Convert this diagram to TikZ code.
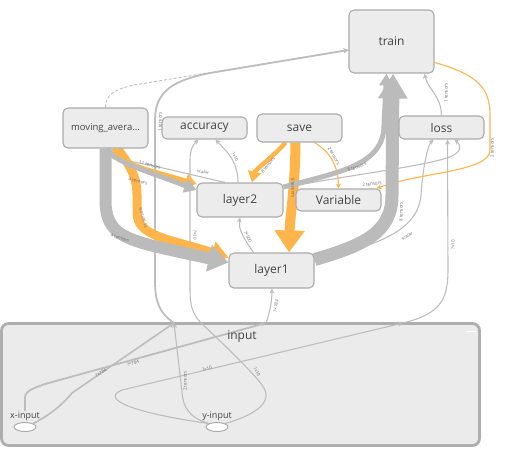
\documentclass[tikz,border=0pt]{standalone}
\usepackage{fontspec}
\setmainfont{Open Sans}
\usetikzlibrary{positioning,calc,arrows.meta,shapes.geometric}
\definecolor{nodefill}{HTML}{ECECEC}
\definecolor{nodeframe}{HTML}{ABABAB}
\definecolor{groupfill}{HTML}{EBEBEB}
\definecolor{groupframe}{HTML}{AEAEAE}
\definecolor{edgegray}{HTML}{BDBDBD}
\definecolor{flowgray}{HTML}{BBBBBB}
\definecolor{reforange}{HTML}{FFB54A}
\definecolor{nodetext}{HTML}{444444}
\definecolor{labeltext}{HTML}{6A6A6A}
\pgfdeclarelayer{grouplayer}
\pgfdeclarelayer{edgelayer}
\pgfsetlayers{grouplayer,edgelayer,main}
\tikzset{>=Stealth,
  opnode/.style={draw=nodeframe,fill=nodefill,rounded corners=5pt,line width=1.1pt,
    text=nodetext,font=\fontsize{12}{14}\selectfont,inner sep=0pt},
  groupbox/.style={draw=groupframe,fill=groupfill,rounded corners=7pt,line width=2.8pt,inner sep=0pt},
  inputnode/.style={ellipse,draw=nodeframe,fill=white,line width=1pt,
    minimum width=22pt,minimum height=9pt,inner sep=0pt},
  inputname/.style={font=\fontsize{9}{10}\selectfont,text=nodetext,inner sep=1pt},
  dataedge/.style={draw=edgegray,line width=1.1pt,-{Stealth[length=5pt,width=5pt]}},
  refedge/.style={draw=reforange,line width=1.1pt,-{Stealth[length=5pt,width=5pt]}},
  elabel/.style={font=\fontsize{4.5}{5}\selectfont,text=labeltext,inner sep=0pt}
}

\begin{document}
\begin{tikzpicture}[x=1pt,y=-1pt]
\useasboundingbox (0,0) rectangle (514,456);
% the input group
\begin{pgfonlayer}{grouplayer}
\node[groupbox,minimum width=478pt,minimum height=122pt] (input) at (240.5,384.5) {};
\end{pgfonlayer}
\node[font=\fontsize{12}{14}\selectfont,text=nodetext] (inputname) at (242,337) {input};
\draw[white,line width=1.4pt] (466,331.5) -- (476,331.5);
\node[inputnode] (xin) at (25,427) {};
\node[inputnode] (yin) at (217,427) {};
\node[inputname,above=0pt of xin] (xinname) {x-input};
\node[inputname,above=0pt of yin] (yinname) {y-input};
\coordinate (portA) at (174,323);
\coordinate (portB) at (201,323);
\coordinate (portC) at (266,323);
\coordinate (portD) at (403,323);
% ops
\node[opnode,minimum width=85pt,minimum height=63pt] (train) at (391.5,41.5) {train};
\node[opnode,minimum width=85pt,minimum height=40pt,font=\fontsize{9.5}{11}\selectfont] (movavg) at (105.5,128) {moving\_avera...};
\node[opnode,minimum width=85pt,minimum height=22pt] (accuracy) at (204.5,128) {accuracy};
\node[opnode,minimum width=85pt,minimum height=28pt] (save) at (299.5,128) {save};
\node[opnode,minimum width=85pt,minimum height=23pt] (loss) at (441.5,127.5) {loss};
\node[opnode,minimum width=86pt,minimum height=34pt] (layertwo) at (240,200) {layer2};
\node[opnode,minimum width=85pt,minimum height=22pt] (variable) at (338.5,200) {Variable};
\node[opnode,minimum width=85pt,minimum height=35pt] (layerone) at (271.5,270.5) {layer1};

\begin{pgfonlayer}{edgelayer}
% thin edges
\draw[dataedge,-] ([xshift=2pt]movavg.south) .. controls (108,156) and (125,161) .. (150,165) -- ([xshift=-15pt]layertwo.north);
\draw[dataedge,dash pattern=on 3pt off 2pt,line width=0.9pt] (movavg.north) .. controls (105,95) and (115,88) .. (140,84) -- ([yshift=-8.5pt]train.west);
\draw[dataedge,line width=1.8pt] (portA) .. controls (158,312) and (155,300) .. (155,280) -- (155,120) .. controls (155,90) and (175,80) .. (210,73) -- ([yshift=-8.5pt]train.west);
\draw[dataedge,line width=1.6pt] (xin.north east) .. controls (50,415) and (62,405) .. (72,393) -- (portA);
\draw[dataedge] (yin.north west) .. controls (190,418) and (183,408) .. (182,392) -- (portA);
\draw[dataedge] (yin.north east) .. controls (255,415) and (275,402) .. (262,385) .. controls (255,375) and (230,350) .. (portB) .. controls (192,313) and (190,305) .. (190,290) -- (190,160) .. controls (190,148) and (194,144) .. ([xshift=-6pt]accuracy.south);
\draw[dataedge,line width=1.8pt] (xinname.north) -- (25,398) .. controls (25,390) and (35,388) .. (45,384) -- (portC);
\draw[dataedge] (portC) .. controls (270,312) and (272,300) .. ([xshift=0.5pt]layerone.south);
\draw[dataedge] (yin.north west) .. controls (140,414) and (98,400) .. (122,390) -- (portD);
\draw[dataedge] (portD) .. controls (440,314) and (448,300) .. (448,270) -- ([xshift=6pt]loss.south);
\draw[dataedge] ([xshift=-18pt]layerone.north) .. controls (245,240) and (238,230) .. (layertwo.south);
\draw[dataedge] ([xshift=-2pt]layertwo.north) .. controls (238,160) and (225,150) .. ([xshift=11pt]accuracy.south);
\draw[dataedge] ([yshift=11pt]layerone.east) .. controls (365,248) and (418,235) .. (421,195) .. controls (423,165) and (428,145) .. ([xshift=-8pt]loss.south);
\draw[dataedge] ([yshift=12pt]layertwo.east) .. controls (340,176) and (430,166) .. (452,156) .. controls (462,151) and (461,145) .. ([xshift=13pt]loss.south);
\draw[dataedge] (loss.north) .. controls (441,95) and (428,90) .. ([xshift=33pt]train.south);
\draw[refedge] ([xshift=15pt]save.south) .. controls (330,152) and (338,165) .. (variable.north);
\draw[refedge] ([yshift=-21pt]train.east) .. controls (480,75) and (490,90) .. (490,115) -- (490,150) .. controls (490,172) and (420,172) .. ([xshift=-5pt]variable.north east);
% bands
\draw[reforange,line width=9pt,-{Triangle[length=17pt,width=22pt]}] ([xshift=12pt]movavg.south) .. controls (125,160) and (137,172) .. (137,195) -- (137,212) .. controls (137,236) and (165,238) .. ([yshift=13pt]layerone.west);
\draw[reforange,line width=4.5pt,-{Triangle[length=11pt,width=14pt]}] ([xshift=8pt]movavg.south) .. controls (120,165) and (150,170) .. ([yshift=16pt]layertwo.west);
\draw[flowgray,line width=12pt,-{Triangle[length=20pt,width=26pt]}] (movavg.south) -- (105.5,200) .. controls (105.5,235) and (125,240) .. (180,252) -- ([yshift=8pt]layerone.west);
\draw[flowgray,line width=5pt,-{Triangle[length=12pt,width=14pt]}] ([xshift=3pt]movavg.south) .. controls (108,160) and (150,172) .. ([yshift=10pt]layertwo.west);
\draw[reforange,line width=4.5pt,-{Triangle[length=11pt,width=13pt]}] ([xshift=-14pt]save.south) .. controls (275,155) and (255,170) .. ([xshift=12pt]layertwo.north);
\draw[reforange,line width=10pt,-{Triangle[length=22pt,width=29pt]}] ([xshift=-4pt]save.south) .. controls (295,190) and (290,215) .. ([xshift=17.5pt]layerone.north);
\draw[flowgray,line width=5pt,-{Triangle[length=12pt,width=13pt]}] ([yshift=13pt]layertwo.east) .. controls (340,172) and (384,165) .. (384,125) -- ([xshift=-5pt]train.south);
\draw[flowgray,line width=13pt,-{Triangle[length=25pt,width=28pt]}] ([yshift=11pt]layerone.east) .. controls (365,245) and (392,232) .. (392,195) -- ([xshift=1.5pt]train.south);
\end{pgfonlayer}

% edge labels
\node[elabel,rotate=90] (lbla) at (160,122) {1 tensors};
\node[elabel,rotate=-90] (lblb) at (195,235) {?×10};
\node[elabel,rotate=90] (lblc) at (185,381) {2 tensors};
\node[elabel,rotate=32] (lbld) at (101,373) {?×784};
\node[elabel,rotate=17] (lble) at (133,363) {?×784};
\node[elabel,rotate=15] (lblf) at (207,369) {?×10};
\node[elabel,rotate=-60] (lblg) at (257,372) {?×10};
\node[elabel,rotate=80] (lblh) at (276,306) {?×784};
\node[elabel,rotate=90] (lbli) at (453,245) {?×10};
\node[elabel,rotate=30] (lblj) at (407,236) {scalar};
\node[elabel,rotate=8] (lblk) at (372,184) {2 tensors};
\node[elabel,rotate=20] (lbll) at (357,167) {8 tensors};
\node[elabel,rotate=90] (lblm) at (401,212) {8 tensors};
\node[elabel,rotate=90] (lbln) at (446,93) {1 tensors};
\node[elabel,rotate=90] (lblo) at (492,148) {2 tensors};
\node[elabel,rotate=-88] (lblp) at (293,188) {8 tensors};
\node[elabel,rotate=52] (lblq) at (268,165) {8 tensors};
\node[elabel,rotate=-60] (lblr) at (334,156) {2 tensors};
\node[elabel,rotate=-60] (lbls) at (235,157) {?×10};
\node[elabel,rotate=-65] (lblt) at (248,237) {?×500};
\node[elabel,rotate=-15] (lblu) at (150,165) {11 tensors};
\node[elabel,rotate=-14] (lblv) at (138,181) {4 tensors};
\node[elabel,rotate=108] (lblw) at (143,218) {11 tensors};
\node[elabel,rotate=-18] (lblx) at (120,238) {4 tensors};
\node[elabel,rotate=-10] (lbly) at (203,172) {scalar};
\end{tikzpicture}
\end{document}
